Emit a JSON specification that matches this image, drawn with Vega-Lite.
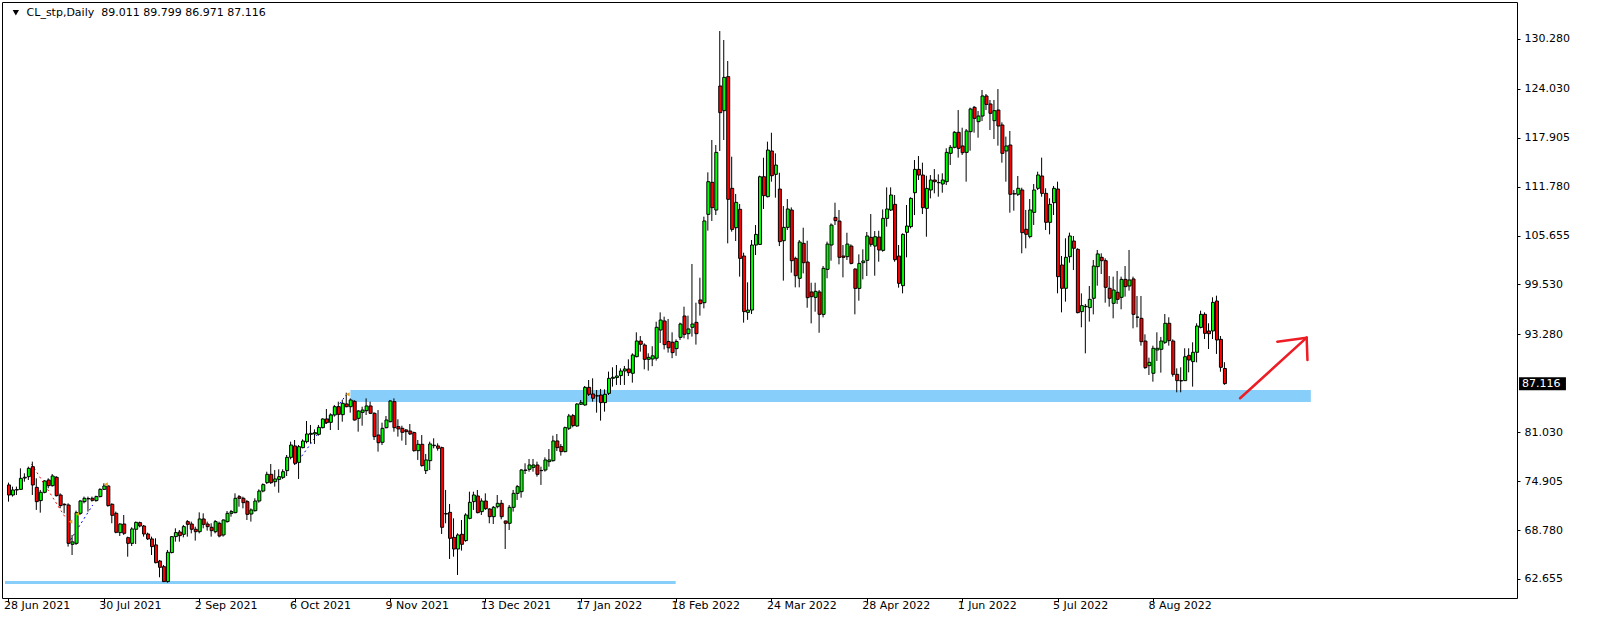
{
"$schema": "https://vega.github.io/schema/vega-lite/v6.json",
"width": 1515, "height": 596,
"autosize": {"type": "none"},
"padding": {"left": 2, "top": 2, "right": 87, "bottom": 22},
"background": "#ffffff",
"config": {
  "view": {"stroke": "#000000", "strokeWidth": 1},
  "axis": {"labelFont": "DejaVu Sans", "labelFontSize": 11, "labelColor": "#000000", "tickColor": "#000000", "domain": false, "grid": false, "title": null}
},
"datasets": {
  "zones": [
    {"a": 86.05, "b": 327.75, "lo": 84.82, "hi": 86.32},
    {"a": -0.875, "b": 167.9, "lo": 62.03, "hi": 62.4}
  ],
  "trades": [
    {"s": "r", "k": 0, "i": 5.8, "p": 77.05}, {"s": "r", "k": 1, "i": 14.55, "p": 70.17},
    {"s": "b1", "k": 0, "i": 14.95, "p": 67.04}, {"s": "b1", "k": 1, "i": 21.2, "p": 71.92},
    {"s": "b2", "k": 0, "i": 72.3, "p": 77.01}, {"s": "b2", "k": 1, "i": 84.95, "p": 85.69}
  ],
  "marks": [
    {"i": 15.6, "p": 69.83}, {"i": 17.3, "p": 70.79}, {"i": 24.55, "p": 74.51}, {"i": 85.4, "p": 85.78}
  ],
  "arrow": [
    {"s": 1, "k": 0, "i": 309.95, "p": 85.28}, {"s": 1, "k": 1, "i": 326.7, "p": 92.87},
    {"s": 2, "k": 0, "i": 319.3, "p": 92.37}, {"s": 2, "k": 1, "i": 326.7, "p": 92.87},
    {"s": 3, "k": 0, "i": 326.7, "p": 92.87}, {"s": 3, "k": 1, "i": 326.9, "p": 90.07}
  ],
  "head": [{"i": 1.85, "p": 133.56}],
  "title": [{"t": "CL_stp,Daily\u00a0 89.011 89.799 86.971 87.116", "i": 4.55, "p": 133.52}],
  "box": [{"a": 380.15, "b": 391.95, "p": 87.116, "t": "87.116"}],
  "candles": [
{"i":0,"o":74.43,"h":74.72,"l":72.34,"c":73.17},
{"i":1,"o":73.17,"h":74.22,"l":72.97,"c":73.80},
{"i":2,"o":73.80,"h":74.22,"l":73.17,"c":73.85},
{"i":3,"o":73.88,"h":76.51,"l":73.80,"c":75.26},
{"i":4,"o":75.30,"h":75.89,"l":74.84,"c":75.39},
{"i":5,"o":75.47,"h":76.72,"l":75.05,"c":76.51},
{"i":6,"o":76.72,"h":77.35,"l":73.17,"c":74.43},
{"i":7,"o":74.13,"h":75.26,"l":71.30,"c":72.34},
{"i":8,"o":72.47,"h":73.80,"l":70.96,"c":73.51},
{"i":9,"o":73.51,"h":75.05,"l":73.38,"c":74.93},
{"i":10,"o":75.05,"h":75.26,"l":74.01,"c":74.34},
{"i":11,"o":74.34,"h":75.80,"l":74.22,"c":75.55},
{"i":12,"o":75.39,"h":75.55,"l":72.97,"c":73.09},
{"i":13,"o":73.17,"h":73.38,"l":71.51,"c":71.84},
{"i":14,"o":72.01,"h":72.13,"l":70.88,"c":71.95},
{"i":15,"o":71.92,"h":72.13,"l":66.71,"c":67.12},
{"i":16,"o":67.00,"h":68.17,"l":65.66,"c":67.30},
{"i":17,"o":67.12,"h":71.21,"l":66.92,"c":70.96},
{"i":18,"o":70.88,"h":72.55,"l":70.67,"c":72.42},
{"i":19,"o":72.34,"h":72.97,"l":72.13,"c":72.76},
{"i":20,"o":72.72,"h":72.97,"l":71.09,"c":72.70},
{"i":21,"o":72.76,"h":72.97,"l":72.34,"c":72.51},
{"i":22,"o":72.47,"h":73.09,"l":72.34,"c":72.97},
{"i":23,"o":72.97,"h":74.01,"l":72.88,"c":73.88},
{"i":24,"o":73.88,"h":74.64,"l":73.80,"c":74.30},
{"i":25,"o":74.30,"h":74.43,"l":71.71,"c":71.84},
{"i":26,"o":72.01,"h":72.13,"l":69.63,"c":70.63},
{"i":27,"o":70.88,"h":71.09,"l":68.38,"c":68.50},
{"i":28,"o":68.46,"h":69.63,"l":68.04,"c":69.54},
{"i":29,"o":69.54,"h":70.67,"l":68.17,"c":68.38},
{"i":30,"o":67.83,"h":67.96,"l":65.45,"c":67.12},
{"i":31,"o":67.12,"h":69.13,"l":66.79,"c":68.92},
{"i":32,"o":68.88,"h":69.84,"l":67.04,"c":69.75},
{"i":33,"o":69.71,"h":69.84,"l":69.13,"c":69.29},
{"i":34,"o":69.29,"h":69.42,"l":67.96,"c":68.29},
{"i":35,"o":68.29,"h":68.46,"l":67.54,"c":67.67},
{"i":36,"o":67.67,"h":67.96,"l":65.66,"c":66.71},
{"i":37,"o":66.92,"h":67.75,"l":64.62,"c":64.70},
{"i":38,"o":64.91,"h":65.04,"l":62.87,"c":64.12},
{"i":39,"o":64.20,"h":64.41,"l":62.30,"c":62.33},
{"i":40,"o":62.33,"h":66.29,"l":62.20,"c":66.00},
{"i":41,"o":65.96,"h":68.04,"l":65.87,"c":67.96},
{"i":42,"o":67.96,"h":69.00,"l":67.33,"c":68.46},
{"i":43,"o":68.54,"h":68.79,"l":67.33,"c":68.08},
{"i":44,"o":68.25,"h":69.42,"l":67.87,"c":69.21},
{"i":45,"o":69.84,"h":70.04,"l":67.96,"c":69.50},
{"i":46,"o":69.54,"h":69.84,"l":68.37,"c":68.88},
{"i":47,"o":68.88,"h":69.21,"l":67.46,"c":68.58},
{"i":48,"o":68.58,"h":71.00,"l":68.37,"c":70.17},
{"i":49,"o":70.17,"h":70.88,"l":69.00,"c":69.50},
{"i":50,"o":69.54,"h":69.84,"l":68.71,"c":69.21},
{"i":51,"o":69.13,"h":69.63,"l":67.96,"c":68.71},
{"i":52,"o":68.58,"h":70.04,"l":68.37,"c":69.84},
{"i":53,"o":69.63,"h":69.84,"l":67.87,"c":68.04},
{"i":54,"o":68.17,"h":70.13,"l":67.96,"c":70.04},
{"i":55,"o":69.84,"h":71.17,"l":69.71,"c":70.88},
{"i":56,"o":70.88,"h":71.30,"l":70.46,"c":71.09},
{"i":57,"o":70.96,"h":73.38,"l":70.88,"c":72.76},
{"i":58,"o":72.96,"h":73.17,"l":71.71,"c":72.76},
{"i":59,"o":72.76,"h":72.96,"l":71.50,"c":72.21},
{"i":60,"o":72.34,"h":72.55,"l":70.04,"c":70.75},
{"i":61,"o":70.79,"h":71.50,"l":69.84,"c":71.30},
{"i":62,"o":71.21,"h":72.76,"l":71.09,"c":72.42},
{"i":63,"o":72.42,"h":73.88,"l":72.21,"c":73.67},
{"i":64,"o":73.67,"h":74.63,"l":73.51,"c":74.47},
{"i":65,"o":74.72,"h":76.09,"l":74.55,"c":75.76},
{"i":66,"o":75.76,"h":77.05,"l":74.55,"c":74.72},
{"i":67,"o":74.84,"h":76.30,"l":74.22,"c":75.18},
{"i":68,"o":75.13,"h":76.39,"l":73.46,"c":75.47},
{"i":69,"o":75.38,"h":76.39,"l":75.18,"c":76.09},
{"i":70,"o":76.22,"h":78.18,"l":75.55,"c":77.89},
{"i":71,"o":77.89,"h":79.85,"l":77.64,"c":79.43},
{"i":72,"o":79.31,"h":80.06,"l":76.93,"c":77.14},
{"i":73,"o":77.26,"h":79.43,"l":75.18,"c":79.22},
{"i":74,"o":79.10,"h":80.14,"l":79.02,"c":79.93},
{"i":75,"o":79.85,"h":82.44,"l":79.64,"c":80.81},
{"i":76,"o":80.77,"h":81.94,"l":79.64,"c":80.89},
{"i":77,"o":80.81,"h":81.39,"l":79.56,"c":80.98},
{"i":78,"o":80.77,"h":81.94,"l":80.60,"c":81.64},
{"i":79,"o":81.60,"h":82.77,"l":81.52,"c":82.69},
{"i":80,"o":82.69,"h":83.94,"l":82.06,"c":82.23},
{"i":81,"o":82.27,"h":83.40,"l":81.31,"c":83.19},
{"i":82,"o":83.19,"h":84.44,"l":82.98,"c":84.23},
{"i":83,"o":84.23,"h":84.86,"l":81.31,"c":83.27},
{"i":84,"o":83.23,"h":85.07,"l":82.35,"c":84.65},
{"i":85,"o":84.57,"h":85.98,"l":84.15,"c":84.23},
{"i":86,"o":84.23,"h":85.27,"l":83.48,"c":85.07},
{"i":87,"o":84.90,"h":85.07,"l":82.48,"c":82.56},
{"i":88,"o":82.77,"h":83.81,"l":81.10,"c":83.69},
{"i":89,"o":83.52,"h":84.23,"l":81.85,"c":83.81},
{"i":90,"o":83.73,"h":85.27,"l":83.19,"c":84.32},
{"i":91,"o":84.32,"h":84.86,"l":83.31,"c":83.40},
{"i":92,"o":83.40,"h":83.52,"l":80.06,"c":80.48},
{"i":93,"o":80.68,"h":83.81,"l":78.60,"c":79.72},
{"i":94,"o":79.77,"h":82.23,"l":79.43,"c":81.52},
{"i":95,"o":81.60,"h":83.06,"l":81.52,"c":82.56},
{"i":96,"o":82.35,"h":85.07,"l":82.27,"c":84.94},
{"i":97,"o":84.86,"h":85.27,"l":81.10,"c":81.60},
{"i":98,"o":81.73,"h":82.65,"l":80.48,"c":81.44},
{"i":99,"o":81.52,"h":81.85,"l":79.98,"c":81.02},
{"i":100,"o":81.31,"h":81.44,"l":79.43,"c":81.10},
{"i":101,"o":81.18,"h":82.06,"l":80.68,"c":80.81},
{"i":102,"o":80.98,"h":81.10,"l":78.60,"c":78.72},
{"i":103,"o":78.72,"h":80.06,"l":77.56,"c":79.52},
{"i":104,"o":79.52,"h":80.68,"l":76.72,"c":76.85},
{"i":105,"o":76.22,"h":78.31,"l":75.80,"c":77.56},
{"i":106,"o":77.47,"h":79.85,"l":76.30,"c":79.56},
{"i":107,"o":79.35,"h":80.27,"l":79.02,"c":79.40},
{"i":108,"o":79.31,"h":79.64,"l":78.72,"c":79.02},
{"i":109,"o":79.10,"h":79.22,"l":68.29,"c":69.13},
{"i":110,"o":70.79,"h":73.80,"l":69.63,"c":70.85},
{"i":111,"o":71.00,"h":72.05,"l":65.16,"c":67.75},
{"i":112,"o":67.87,"h":70.25,"l":65.45,"c":66.41},
{"i":113,"o":66.41,"h":68.37,"l":63.16,"c":68.17},
{"i":114,"o":68.25,"h":70.04,"l":66.21,"c":67.00},
{"i":115,"o":67.46,"h":70.88,"l":67.33,"c":70.67},
{"i":116,"o":70.25,"h":73.59,"l":70.13,"c":72.26},
{"i":117,"o":72.34,"h":73.59,"l":71.30,"c":73.17},
{"i":118,"o":73.05,"h":73.80,"l":70.88,"c":70.96},
{"i":119,"o":71.09,"h":72.76,"l":70.67,"c":72.42},
{"i":120,"o":72.42,"h":73.38,"l":71.30,"c":71.46},
{"i":121,"o":71.42,"h":71.50,"l":69.63,"c":70.46},
{"i":122,"o":70.46,"h":71.80,"l":69.54,"c":71.63},
{"i":123,"o":71.71,"h":73.17,"l":71.50,"c":72.13},
{"i":124,"o":72.13,"h":72.55,"l":70.13,"c":70.46},
{"i":125,"o":69.92,"h":69.95,"l":66.41,"c":69.63},
{"i":126,"o":69.63,"h":71.92,"l":68.79,"c":71.63},
{"i":127,"o":71.63,"h":73.80,"l":71.09,"c":73.38},
{"i":128,"o":73.38,"h":74.43,"l":72.55,"c":74.22},
{"i":129,"o":73.59,"h":76.43,"l":72.84,"c":76.30},
{"i":130,"o":76.25,"h":77.14,"l":75.80,"c":76.30},
{"i":131,"o":76.39,"h":77.68,"l":76.09,"c":76.93},
{"i":132,"o":76.64,"h":77.68,"l":76.09,"c":76.93},
{"i":133,"o":76.93,"h":77.35,"l":75.47,"c":75.76},
{"i":134,"o":76.22,"h":76.72,"l":74.43,"c":76.25},
{"i":135,"o":76.30,"h":77.89,"l":76.10,"c":77.56},
{"i":136,"o":77.35,"h":78.93,"l":76.72,"c":77.56},
{"i":137,"o":77.47,"h":80.60,"l":77.35,"c":79.94},
{"i":138,"o":79.94,"h":80.81,"l":78.68,"c":79.10},
{"i":139,"o":79.23,"h":79.56,"l":78.10,"c":78.60},
{"i":140,"o":78.60,"h":81.73,"l":78.52,"c":81.61},
{"i":141,"o":81.52,"h":83.32,"l":81.31,"c":83.07},
{"i":142,"o":83.11,"h":83.32,"l":81.65,"c":81.86},
{"i":143,"o":81.81,"h":84.65,"l":81.73,"c":84.57},
{"i":144,"o":84.53,"h":85.07,"l":84.44,"c":84.74},
{"i":145,"o":84.44,"h":86.82,"l":84.36,"c":86.65},
{"i":146,"o":86.65,"h":87.57,"l":85.57,"c":85.78},
{"i":147,"o":85.82,"h":87.78,"l":84.86,"c":85.28},
{"i":148,"o":85.57,"h":86.32,"l":83.48,"c":85.60},
{"i":149,"o":85.69,"h":86.45,"l":82.48,"c":84.74},
{"i":150,"o":84.74,"h":86.40,"l":83.61,"c":85.78},
{"i":151,"o":85.90,"h":88.62,"l":85.69,"c":87.78},
{"i":152,"o":87.78,"h":89.16,"l":86.74,"c":87.91},
{"i":153,"o":87.87,"h":89.45,"l":86.95,"c":88.07},
{"i":154,"o":88.12,"h":89.03,"l":86.95,"c":88.70},
{"i":155,"o":88.70,"h":89.33,"l":86.95,"c":88.95},
{"i":156,"o":88.95,"h":90.16,"l":88.07,"c":88.49},
{"i":157,"o":88.41,"h":90.91,"l":87.24,"c":90.70},
{"i":158,"o":90.49,"h":93.54,"l":90.41,"c":92.45},
{"i":159,"o":92.45,"h":93.08,"l":91.12,"c":92.04},
{"i":160,"o":91.95,"h":92.16,"l":88.91,"c":90.16},
{"i":161,"o":90.16,"h":90.91,"l":88.74,"c":90.41},
{"i":162,"o":90.20,"h":91.80,"l":89.30,"c":90.60},
{"i":163,"o":90.30,"h":94.87,"l":90.00,"c":94.17},
{"i":164,"o":93.83,"h":96.04,"l":92.20,"c":95.08},
{"i":165,"o":94.96,"h":95.50,"l":91.40,"c":92.00},
{"i":166,"o":92.40,"h":95.21,"l":91.00,"c":91.60},
{"i":167,"o":92.30,"h":93.54,"l":90.30,"c":91.00},
{"i":168,"o":91.50,"h":92.66,"l":90.60,"c":92.40},
{"i":169,"o":92.91,"h":94.75,"l":92.58,"c":94.58},
{"i":170,"o":95.58,"h":96.75,"l":92.79,"c":93.29},
{"i":171,"o":93.37,"h":95.63,"l":92.66,"c":93.96},
{"i":172,"o":94.17,"h":102.09,"l":93.00,"c":94.58},
{"i":173,"o":94.79,"h":97.25,"l":92.00,"c":93.37},
{"i":174,"o":97.59,"h":100.38,"l":95.63,"c":97.13},
{"i":175,"o":97.25,"h":108.02,"l":96.54,"c":107.48},
{"i":176,"o":108.31,"h":113.57,"l":106.27,"c":112.40},
{"i":177,"o":112.32,"h":117.62,"l":107.48,"c":109.15},
{"i":178,"o":108.85,"h":116.99,"l":108.23,"c":116.07},
{"i":179,"o":124.38,"h":131.26,"l":116.24,"c":121.04},
{"i":180,"o":121.29,"h":130.14,"l":117.62,"c":125.46},
{"i":181,"o":125.55,"h":127.51,"l":104.68,"c":110.19},
{"i":182,"o":111.57,"h":115.53,"l":106.14,"c":106.43},
{"i":183,"o":106.64,"h":110.86,"l":104.97,"c":109.81},
{"i":184,"o":108.94,"h":109.61,"l":100.51,"c":102.80},
{"i":185,"o":103.09,"h":103.51,"l":94.75,"c":96.13},
{"i":186,"o":96.04,"h":99.80,"l":95.10,"c":96.33},
{"i":187,"o":96.33,"h":105.10,"l":95.83,"c":104.47},
{"i":188,"o":104.47,"h":106.97,"l":103.22,"c":105.80},
{"i":189,"o":104.55,"h":113.15,"l":104.47,"c":113.02},
{"i":190,"o":113.02,"h":115.40,"l":108.98,"c":110.65},
{"i":191,"o":110.52,"h":117.41,"l":110.44,"c":116.36},
{"i":192,"o":116.24,"h":118.53,"l":112.40,"c":113.15},
{"i":193,"o":113.32,"h":115.95,"l":110.40,"c":114.48},
{"i":194,"o":111.48,"h":113.52,"l":104.34,"c":104.89},
{"i":195,"o":105.01,"h":109.35,"l":100.01,"c":106.68},
{"i":196,"o":106.68,"h":110.23,"l":106.35,"c":108.98},
{"i":197,"o":108.85,"h":109.18,"l":101.01,"c":102.51},
{"i":198,"o":102.80,"h":103.01,"l":99.17,"c":100.63},
{"i":199,"o":100.30,"h":105.10,"l":99.17,"c":104.84},
{"i":200,"o":104.68,"h":106.64,"l":100.92,"c":102.26},
{"i":201,"o":102.34,"h":105.01,"l":96.62,"c":97.88},
{"i":202,"o":98.59,"h":99.75,"l":94.66,"c":98.00},
{"i":203,"o":97.92,"h":99.75,"l":96.12,"c":98.67},
{"i":204,"o":98.59,"h":98.84,"l":93.49,"c":95.79},
{"i":205,"o":95.79,"h":101.84,"l":95.41,"c":101.55},
{"i":206,"o":101.42,"h":104.89,"l":100.30,"c":104.59},
{"i":207,"o":104.47,"h":107.18,"l":102.51,"c":106.97},
{"i":208,"o":107.93,"h":109.77,"l":106.97,"c":107.52},
{"i":209,"o":107.47,"h":108.85,"l":102.05,"c":102.93},
{"i":210,"o":103.09,"h":104.47,"l":100.42,"c":102.93},
{"i":211,"o":103.01,"h":106.01,"l":102.59,"c":104.59},
{"i":212,"o":104.34,"h":104.55,"l":102.05,"c":102.17},
{"i":213,"o":101.46,"h":101.55,"l":95.79,"c":99.04},
{"i":214,"o":99.04,"h":103.30,"l":97.50,"c":102.17},
{"i":215,"o":102.26,"h":103.93,"l":100.17,"c":102.47},
{"i":216,"o":102.55,"h":106.10,"l":100.59,"c":105.60},
{"i":217,"o":105.43,"h":108.35,"l":104.26,"c":104.55},
{"i":218,"o":104.34,"h":106.22,"l":100.63,"c":105.51},
{"i":219,"o":105.47,"h":106.26,"l":102.38,"c":103.84},
{"i":220,"o":103.80,"h":108.93,"l":103.63,"c":107.81},
{"i":221,"o":107.81,"h":111.69,"l":106.77,"c":108.98},
{"i":222,"o":108.85,"h":111.69,"l":108.73,"c":110.73},
{"i":223,"o":109.56,"h":110.73,"l":102.38,"c":102.63},
{"i":224,"o":103.09,"h":104.47,"l":99.13,"c":99.67},
{"i":225,"o":99.38,"h":105.93,"l":98.42,"c":105.80},
{"i":226,"o":106.06,"h":109.48,"l":102.93,"c":106.85},
{"i":227,"o":106.77,"h":110.44,"l":106.56,"c":110.31},
{"i":228,"o":111.02,"h":115.11,"l":108.22,"c":113.94},
{"i":229,"o":113.94,"h":115.61,"l":112.61,"c":113.23},
{"i":230,"o":113.23,"h":114.78,"l":108.35,"c":109.14},
{"i":231,"o":109.06,"h":113.15,"l":105.51,"c":111.56},
{"i":232,"o":111.36,"h":113.23,"l":110.31,"c":112.61},
{"i":233,"o":112.61,"h":113.98,"l":110.94,"c":112.40},
{"i":234,"o":112.27,"h":113.32,"l":110.52,"c":112.30},
{"i":235,"o":112.11,"h":113.45,"l":111.02,"c":112.61},
{"i":236,"o":112.40,"h":116.58,"l":111.98,"c":116.07},
{"i":237,"o":115.95,"h":116.99,"l":114.49,"c":116.70},
{"i":238,"o":116.70,"h":118.75,"l":116.58,"c":118.58},
{"i":239,"o":118.58,"h":121.37,"l":115.41,"c":116.58},
{"i":240,"o":116.87,"h":119.16,"l":115.74,"c":116.03},
{"i":241,"o":116.07,"h":119.00,"l":112.40,"c":118.75},
{"i":242,"o":118.66,"h":121.67,"l":116.28,"c":121.50},
{"i":243,"o":121.71,"h":121.88,"l":118.54,"c":120.33},
{"i":244,"o":119.91,"h":121.25,"l":117.91,"c":120.62},
{"i":245,"o":120.62,"h":123.88,"l":119.99,"c":123.13},
{"i":246,"o":123.13,"h":123.38,"l":121.37,"c":122.08},
{"i":247,"o":122.13,"h":122.63,"l":118.87,"c":120.96},
{"i":248,"o":120.04,"h":122.63,"l":117.74,"c":121.29},
{"i":249,"o":121.37,"h":124.00,"l":116.91,"c":119.37},
{"i":250,"o":119.50,"h":119.83,"l":114.78,"c":115.95},
{"i":251,"o":116.24,"h":118.04,"l":112.40,"c":116.87},
{"i":252,"o":116.99,"h":118.75,"l":108.52,"c":110.82},
{"i":253,"o":110.86,"h":111.36,"l":108.77,"c":110.90},
{"i":254,"o":110.82,"h":113.11,"l":110.61,"c":111.57},
{"i":255,"o":111.36,"h":111.65,"l":103.43,"c":106.02},
{"i":256,"o":106.44,"h":108.86,"l":104.06,"c":105.81},
{"i":257,"o":105.52,"h":110.23,"l":105.31,"c":108.86},
{"i":258,"o":108.56,"h":112.11,"l":106.98,"c":111.36},
{"i":259,"o":111.57,"h":113.65,"l":111.36,"c":113.24},
{"i":260,"o":113.11,"h":115.41,"l":110.52,"c":110.94},
{"i":261,"o":110.94,"h":111.57,"l":106.35,"c":107.31},
{"i":262,"o":107.31,"h":110.32,"l":105.81,"c":109.56},
{"i":263,"o":109.77,"h":111.86,"l":108.23,"c":111.57},
{"i":264,"o":111.48,"h":112.40,"l":98.42,"c":100.51},
{"i":265,"o":101.97,"h":103.10,"l":96.04,"c":99.05},
{"i":266,"o":99.05,"h":105.31,"l":97.38,"c":102.93},
{"i":267,"o":103.01,"h":106.02,"l":102.26,"c":105.60},
{"i":268,"o":104.97,"h":105.60,"l":101.34,"c":104.06},
{"i":269,"o":103.93,"h":104.06,"l":95.92,"c":96.00},
{"i":270,"o":96.13,"h":98.42,"l":94.17,"c":96.88},
{"i":271,"o":96.75,"h":97.09,"l":90.91,"c":96.80},
{"i":272,"o":96.63,"h":99.34,"l":94.88,"c":97.67},
{"i":273,"o":97.80,"h":102.60,"l":95.79,"c":101.84},
{"i":274,"o":101.76,"h":103.85,"l":99.38,"c":103.35},
{"i":275,"o":102.93,"h":103.43,"l":100.84,"c":102.51},
{"i":276,"o":102.51,"h":102.80,"l":97.25,"c":99.17},
{"i":277,"o":99.05,"h":100.59,"l":96.75,"c":97.80},
{"i":278,"o":97.17,"h":100.51,"l":95.29,"c":98.84},
{"i":279,"o":98.55,"h":101.22,"l":97.09,"c":97.67},
{"i":280,"o":97.92,"h":100.51,"l":96.42,"c":100.17},
{"i":281,"o":100.17,"h":101.84,"l":98.01,"c":99.26},
{"i":282,"o":99.34,"h":103.85,"l":98.76,"c":100.09},
{"i":283,"o":100.22,"h":100.51,"l":94.04,"c":95.79},
{"i":284,"o":95.42,"h":98.09,"l":94.17,"c":95.45},
{"i":285,"o":95.29,"h":98.09,"l":91.87,"c":92.37},
{"i":286,"o":92.45,"h":93.29,"l":88.95,"c":89.12},
{"i":287,"o":89.37,"h":90.37,"l":88.20,"c":89.78},
{"i":288,"o":88.41,"h":91.87,"l":87.36,"c":91.54},
{"i":289,"o":91.33,"h":93.54,"l":89.95,"c":91.54},
{"i":290,"o":91.41,"h":92.96,"l":88.49,"c":92.45},
{"i":291,"o":92.29,"h":95.83,"l":92.08,"c":94.67},
{"i":292,"o":94.67,"h":95.42,"l":91.87,"c":92.50},
{"i":293,"o":92.45,"h":92.66,"l":87.99,"c":88.28},
{"i":294,"o":88.28,"h":89.03,"l":86.03,"c":87.49},
{"i":295,"o":87.45,"h":89.16,"l":86.03,"c":87.50},
{"i":296,"o":87.49,"h":91.54,"l":87.45,"c":90.49},
{"i":297,"o":90.66,"h":91.54,"l":88.53,"c":90.07},
{"i":298,"o":89.87,"h":92.29,"l":86.74,"c":91.04},
{"i":299,"o":91.04,"h":94.67,"l":89.78,"c":94.33},
{"i":300,"o":94.16,"h":96.25,"l":94.04,"c":95.79},
{"i":301,"o":95.79,"h":96.04,"l":92.70,"c":93.41},
{"i":302,"o":93.71,"h":94.67,"l":91.45,"c":93.37},
{"i":303,"o":93.71,"h":97.92,"l":92.70,"c":97.29},
{"i":304,"o":97.46,"h":98.13,"l":90.83,"c":92.58},
{"i":305,"o":92.66,"h":93.08,"l":88.61,"c":89.16},
{"i":306,"o":89.011,"h":89.799,"l":86.971,"c":87.116}
  ]
},
"layer": [
  {
    "data": {"name": "zones"},
    "mark": {"type": "rect", "color": "#87cefa"},
    "encoding": {
      "x": {"field": "a", "type": "quantitative", "title": null,
        "scale": {"domain": [-0.375, 378.375], "nice": false, "zero": false},
        "axis": {"orient": "bottom", "values": [0,24,48,72,96,120,144,168,192,216,240,264,288],
          "labelExpr": "['28 Jun 2021','30 Jul 2021','2 Sep 2021','6 Oct 2021','9 Nov 2021','13 Dec 2021','17 Jan 2022','18 Feb 2022','24 Mar 2022','28 Apr 2022','1 Jun 2022','5 Jul 2022','8 Aug 2022'][round(datum.value/24)]",
          "tickSize": 4, "labelPadding": 3, "labelAlign": "left", "labelBaseline": "middle", "labelOffset": -5, "labelFlush": false, "labelOverlap": false, "title": null}},
      "x2": {"field": "b"},
      "y": {"field": "lo", "type": "quantitative", "title": null,
        "scale": {"domain": [60.276, 134.897], "nice": false, "zero": false},
        "axis": {"orient": "right", "values": [62.655,68.78,74.905,81.03,93.28,99.53,105.655,111.78,117.905,124.03,130.28],
          "format": ".3f", "tickSize": 3, "labelPadding": 4, "labelFlush": false, "labelOverlap": false, "title": null}},
      "y2": {"field": "hi"}
    }
  },
  {
    "data": {"name": "trades"},
    "mark": {"type": "line", "strokeWidth": 1, "strokeDash": [2, 3]},
    "encoding": {
      "x": {"field": "i", "type": "quantitative", "title": null},
      "y": {"field": "p", "type": "quantitative", "title": null},
      "detail": {"field": "s", "type": "nominal"},
      "order": {"field": "k", "type": "quantitative"},
      "color": {"field": "s", "type": "nominal", "legend": null,
        "scale": {"domain": ["r", "b1", "b2"], "range": ["#ff0000", "#0000ff", "#0000ff"]}}
    }
  },
  {
    "data": {"name": "candles"},
    "mark": {"type": "rule", "color": "#000000", "strokeWidth": 1},
    "encoding": {
      "x": {"field": "i", "type": "quantitative", "title": null},
      "y": {"field": "l", "type": "quantitative", "title": null},
      "y2": {"field": "h"}
    }
  },
  {
    "data": {"name": "candles"},
    "mark": {"type": "bar", "size": 3, "xOffset": 0.5, "stroke": "#000000", "strokeWidth": 1},
    "encoding": {
      "x": {"field": "i", "type": "quantitative", "title": null},
      "y": {"field": "o", "type": "quantitative", "title": null},
      "y2": {"field": "c"},
      "fill": {"condition": {"test": "datum.c >= datum.o", "value": "#00ff00"}, "value": "#ff0000"}
    }
  },
  {
    "data": {"name": "marks"},
    "mark": {"type": "point", "shape": "triangle-left", "filled": true, "color": "#e8a317", "size": 18, "opacity": 1},
    "encoding": {
      "x": {"field": "i", "type": "quantitative", "title": null},
      "y": {"field": "p", "type": "quantitative", "title": null}
    }
  },
  {
    "data": {"name": "arrow"},
    "mark": {"type": "line", "color": "#ee1c25", "strokeWidth": 2.5, "strokeCap": "round"},
    "encoding": {
      "x": {"field": "i", "type": "quantitative", "title": null},
      "y": {"field": "p", "type": "quantitative", "title": null},
      "detail": {"field": "s", "type": "nominal"},
      "order": {"field": "k", "type": "quantitative"}
    }
  },
  {
    "data": {"name": "head"},
    "mark": {"type": "point", "shape": "triangle-down", "filled": true, "color": "#000000", "size": 40, "opacity": 1},
    "encoding": {
      "x": {"field": "i", "type": "quantitative", "title": null},
      "y": {"field": "p", "type": "quantitative", "title": null}
    }
  },
  {
    "data": {"name": "title"},
    "mark": {"type": "text", "align": "left", "baseline": "middle", "font": "DejaVu Sans", "fontSize": 11, "color": "#000000"},
    "encoding": {
      "x": {"field": "i", "type": "quantitative", "title": null},
      "y": {"field": "p", "type": "quantitative", "title": null},
      "text": {"field": "t"}
    }
  },
  {
    "data": {"name": "box"},
    "mark": {"type": "rule", "color": "#000000", "strokeWidth": 13, "strokeCap": "butt"},
    "encoding": {
      "x": {"field": "a", "type": "quantitative", "title": null},
      "x2": {"field": "b"},
      "y": {"field": "p", "type": "quantitative", "title": null}
    }
  },
  {
    "data": {"name": "box"},
    "mark": {"type": "text", "align": "left", "baseline": "middle", "dx": 3, "font": "DejaVu Sans", "fontSize": 11, "color": "#ffffff"},
    "encoding": {
      "x": {"field": "a", "type": "quantitative", "title": null},
      "y": {"field": "p", "type": "quantitative", "title": null},
      "text": {"field": "t"}
    }
  }
]
}
